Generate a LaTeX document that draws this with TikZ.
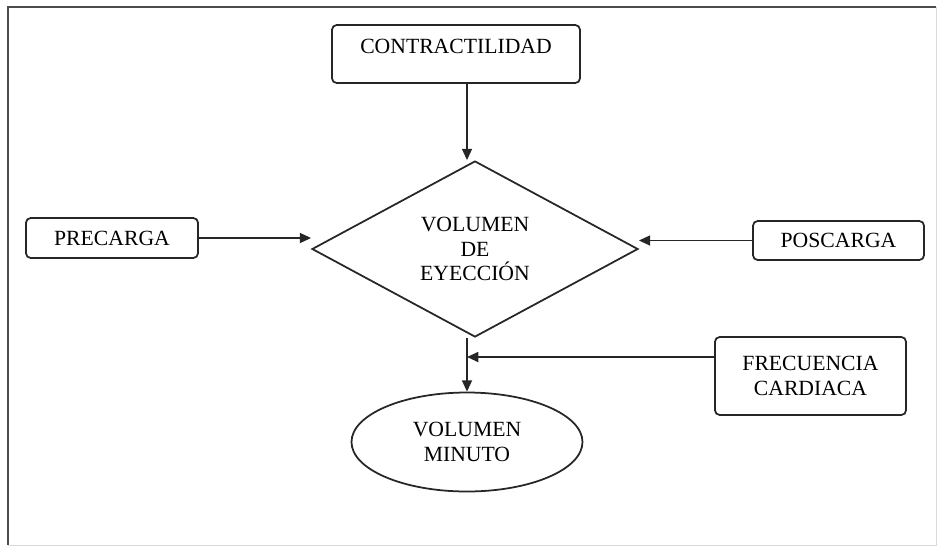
\documentclass[tikz,border=0pt]{standalone}
\usepackage{fontspec}
\setmainfont{Liberation Serif}
\usetikzlibrary{shapes.geometric, arrows.meta, positioning}

\begin{document}
\begin{tikzpicture}[
    x=0.03cm, y=-0.03cm,
    every node/.style={font=\fontsize{18.5}{20.8}\selectfont, text=black},
    factor/.style={rectangle, draw=black!85, line width=1.5pt, rounded corners=4pt, text centered, align=center, inner sep=2pt},
    volume/.style={diamond, draw=black!85, line width=1.5pt, aspect=1.85, inner sep=0pt, minimum width=9.78cm, minimum height=5.28cm, text centered, align=center},
    result/.style={ellipse, draw=black!85, line width=1.5pt, inner sep=0pt, minimum width=6.93cm, minimum height=2.97cm, text centered, align=center},
    arrow/.style={-{Triangle[length=0.34cm, width=0.3cm]}, line width=1.5pt, color=black!85}
]
\useasboundingbox (0,0) rectangle (941,548);

% Frame
\draw[black!70, line width=1.4pt] (8,545) -- (8,7) -- (936,7);
\draw[black!15, line width=0.8pt] (936,7) -- (936,545) -- (8,545);

% Factors
\node[factor, minimum width=7.44cm, minimum height=1.74cm, text depth=0.45cm] (contr) at (456,54) {CONTRACTILIDAD};
\node[factor, minimum width=5.16cm, minimum height=1.2cm] (pre) at (112,238) {PRECARGA};
\node[factor, minimum width=5.13cm, minimum height=1.17cm] (pos) at (838.5,240.5) {POSCARGA};
\node[factor, minimum width=5.73cm, minimum height=2.34cm] (frec) at (810.5,376) {FRECUENCIA\\ CARDIACA};

% Volumes
\node[volume] (dia) at (475,249) {VOLUMEN\\ DE\\ EYECCIÓN};
\node[result] (minuto) at (467,442) {VOLUMEN\\ MINUTO};
\coordinate (join) at (467,357);

% Arrows
\draw[arrow] (contr.south -| minuto) -- (dia.north -| minuto);
\draw[arrow] (pre.east) -- (pre.east -| dia.west);
\draw[arrow] (pos.west) -- (pos.west -| dia.east);
\draw[arrow] (dia.south -| minuto) -- (minuto.north);
\draw[arrow] (frec.west |- join) -- (join);

\end{tikzpicture}
\end{document}
